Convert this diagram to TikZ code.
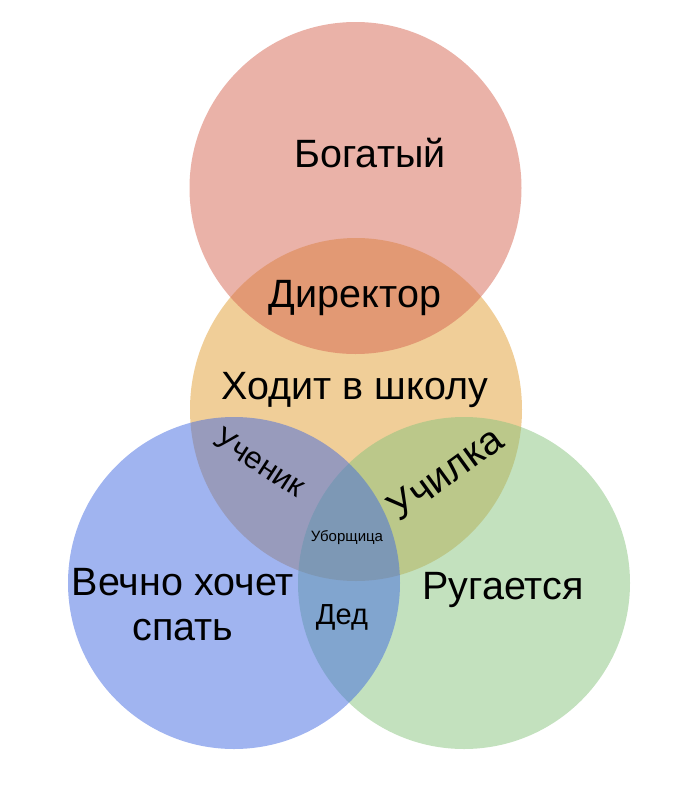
\documentclass[tikz,border=0pt]{standalone}
\usepackage{fontspec}
\setmainfont{Liberation Sans}
\definecolor{rich}{RGB}{213,101,81}
\definecolor{school}{RGB}{225,157,49}
\definecolor{scold}{RGB}{135,195,125}
\definecolor{sleepy}{RGB}{65,105,225}
\tikzset{
  setlabel/.style={font=\fontsize{39.5}{45}\selectfont, align=center},
  midlabel/.style={font=\fontsize{29}{34}\selectfont},
  tinylabel/.style={font=\fontsize{15}{17}\selectfont}
}
\begin{document}
\begin{tikzpicture}[x=1pt, y=-1pt, every node/.style={inner sep=0}]
  \useasboundingbox (0,0) rectangle (700,806);

  % Sets
  \fill[school, fill opacity=0.5] (356,409.5) ellipse [x radius=166, y radius=171.5];
  \foreach \c/\x/\y in {scold/464/583, sleepy/234/583, rich/355.5/188} {
    \fill[\c, fill opacity=0.5] (\x,\y) circle [radius=166];
  }

  % Set names
  \node[setlabel, anchor=base] (rich) at (370,167) {Богатый};
  \node[setlabel, anchor=base] (school) at (355,399) {Ходит в школу};
  \node[setlabel] (sleepy) at (183,605) {Вечно хочет\\спать};
  \node[setlabel, anchor=base] (scold) at (503,599) {Ругается};

  % Overlaps
  \node[setlabel, anchor=base] (director) at (355,307) {Директор};
  \node[font=\fontsize{31}{36}\selectfont, rotate=-33] (pupil) at (260,462) {Ученик};
  \node[setlabel, rotate=36] (teacher) at (445,473) {Училка};
  \node[tinylabel] (cleaner) at (347,538) {Уборщица};
  \node[midlabel, anchor=base] (grandpa) at (342,624) {Дед};
\end{tikzpicture}
\end{document}
